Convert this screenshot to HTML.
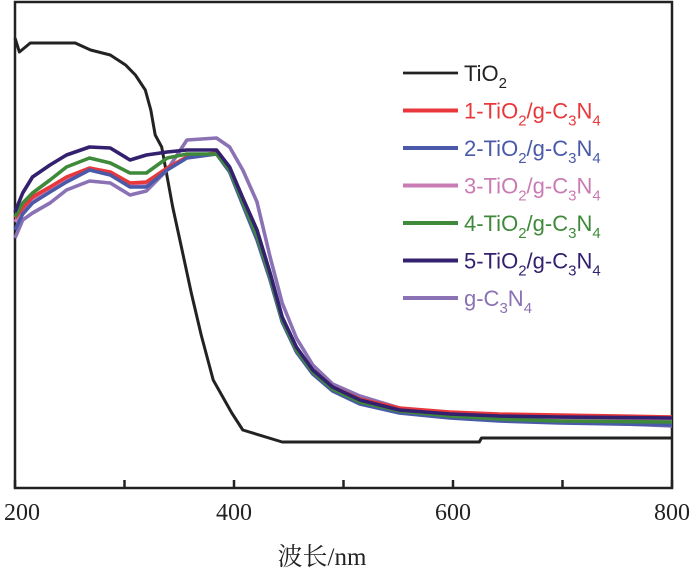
<!DOCTYPE html>
<html><head><meta charset="utf-8"><style>
body{margin:0;background:#fff}
svg{display:block}
</style></head><body>
<svg id="chart" width="700" height="571" viewBox="0 0 700 571" xmlns="http://www.w3.org/2000/svg">
<rect x="15" y="2" width="657" height="486" fill="none" stroke="#222" stroke-width="2.5"/>
<g id="ticks"></g>
<g id="series"></g>
<g id="legend"></g>
<text x="322" y="565" text-anchor="middle" font-family="Liberation Serif, 'Noto Serif CJK SC', serif" font-size="25" fill="#222">波长/nm</text>
</svg>
<script>
const wl = [200,207,216,232,247,268,287,305,320,339,357,384,396,408,421,433,444,457,472,490,515,551,597,642,697,800];
const tiWl = [200,204,214,227,255,269,287,301,310,319,324,328,334,339,344,352,361,370,381,398,408,444,624,626,800];
const tiO2 = [4.50,4.36,4.45,4.45,4.45,4.38,4.33,4.23,4.13,3.98,3.78,3.53,3.41,3.11,2.81,2.41,1.95,1.53,1.08,0.75,0.58,0.46,0.46,0.50,0.50];
const s1 = [2.70,2.80,2.91,3.01,3.11,3.20,3.16,3.05,3.06,3.20,3.31,3.35,3.18,2.86,2.52,2.12,1.70,1.40,1.18,1.01,0.89,0.80,0.76,0.74,0.73,0.71];
const s2 = [2.58,2.74,2.85,2.96,3.06,3.18,3.13,3.01,3.01,3.18,3.30,3.34,3.16,2.83,2.48,2.08,1.66,1.36,1.14,0.97,0.84,0.75,0.70,0.67,0.65,0.63];
const s3 = [2.66,2.78,2.88,2.99,3.09,3.18,3.14,3.03,3.04,3.19,3.31,3.35,3.18,2.86,2.52,2.11,1.69,1.39,1.17,1.00,0.88,0.78,0.73,0.71,0.69,0.67];
const s4 = [2.71,2.85,2.95,3.08,3.21,3.30,3.25,3.15,3.15,3.30,3.34,3.34,3.18,2.86,2.52,2.11,1.68,1.38,1.16,0.99,0.86,0.77,0.72,0.69,0.67,0.66];
const s5 = [2.76,2.95,3.11,3.23,3.33,3.41,3.40,3.28,3.33,3.36,3.38,3.38,3.21,2.90,2.58,2.15,1.71,1.41,1.18,1.01,0.88,0.78,0.74,0.72,0.71,0.70];
const gcn = [2.50,2.68,2.75,2.85,2.98,3.07,3.05,2.93,2.97,3.18,3.48,3.50,3.41,3.18,2.86,2.31,1.85,1.50,1.23,1.04,0.92,0.80,0.74,0.70,0.67,0.62];
const xTicks = [200,300,400,500,600,700,800];
const xTickLabels = ["200","400","600","800"];
const legendLabels = [["TiO","2",""],["1-TiO","2","/g-C","3","N","4"],["2-TiO","2","/g-C","3","N","4"],["3-TiO","2","/g-C","3","N","4"],["4-TiO","2","/g-C","3","N","4"],["5-TiO","2","/g-C","3","N","4"],["g-C","3","N","4"]];

const X0=15,X1=672,Y0=488;
function xs(v){return X0+(v-200)/600*(X1-X0);}
function ys(v){return Y0-v*100;}
const NS="http://www.w3.org/2000/svg";
const ticks=document.getElementById('ticks');
xTicks.forEach(t=>{
  const l=document.createElementNS(NS,'line');
  
  
  l.setAttribute('x1',xs(t));l.setAttribute('x2',xs(t));
  l.setAttribute('y1',Y0);l.setAttribute('y2',Y0-8);
  l.setAttribute('stroke','#222');l.setAttribute('stroke-width','2.5');
  ticks.appendChild(l);
});
xTickLabels.forEach(s=>{
  const t=document.createElementNS(NS,'text');
  
  
  const v=+s;
  t.setAttribute('x',Math.min(Math.max(xs(v),22),678));t.setAttribute('y',520);
  t.setAttribute('text-anchor','middle');
  t.setAttribute('font-family','Liberation Serif, serif');t.setAttribute('font-size','24');t.setAttribute('fill','#222');
  t.textContent=s;ticks.appendChild(t);
});
const series=[
 {name:'tio2',x:tiWl,y:tiO2,c:'#222222',w:3},
 {name:'g-c3n4',x:wl,y:gcn,c:'#8a72b5',w:3.6},
 {name:'s3',x:wl,y:s3,c:'#c97bb3',w:3.6},
 {name:'s1',x:wl,y:s1,c:'#e8383b',w:3.6},
 {name:'s2',x:wl,y:s2,c:'#4a5aa8',w:3.6},
 {name:'s4',x:wl,y:s4,c:'#3f8a3a',w:3.6},
 {name:'s5',x:wl,y:s5,c:'#33206e',w:3.6}
];
const sg=document.getElementById('series');
series.forEach(s=>{
  const p=document.createElementNS(NS,'polyline');
  
  
  p.setAttribute('points',s.x.map((v,i)=>xs(v).toFixed(1)+','+ys(s.y[i]).toFixed(1)).join(' '));
  p.setAttribute('fill','none');p.setAttribute('stroke',s.c);p.setAttribute('stroke-width',s.w);
  p.setAttribute('stroke-linejoin','round');
  sg.appendChild(p);
});
const legColors=['#222222','#e8383b','#4a5aa8','#c97bb3','#3f8a3a','#33206e','#8a72b5'];
const lg=document.getElementById('legend');
legendLabels.forEach((parts,i)=>{
  const y=73+i*37.5;
  const l=document.createElementNS(NS,'line');
  
  
  l.setAttribute('x1',403);l.setAttribute('x2',458);l.setAttribute('y1',y);l.setAttribute('y2',y);
  l.setAttribute('stroke',legColors[i]);l.setAttribute('stroke-width',i==0?2.8:4);
  lg.appendChild(l);
  const t=document.createElementNS(NS,'text');
  
  
  t.setAttribute('x',464);t.setAttribute('y',y+8);
  t.setAttribute('font-family','Liberation Sans, sans-serif');t.setAttribute('font-size','22');t.setAttribute('fill',legColors[i]);
  const isSub = (parts[0]==='g-C') ? [false,true,false,true] : [false,true,false,true,false,true];
  parts.forEach((s,k)=>{
    if(!s) return;
    const ts=document.createElementNS(NS,'tspan');
    ts.textContent=s;
    if(isSub[k]){ts.setAttribute('font-size','15');ts.setAttribute('dy','7');}
    else if(k>0){ts.setAttribute('dy','-7');}
    t.appendChild(ts);
  });
  lg.appendChild(t);
});
</script>
</body></html>
